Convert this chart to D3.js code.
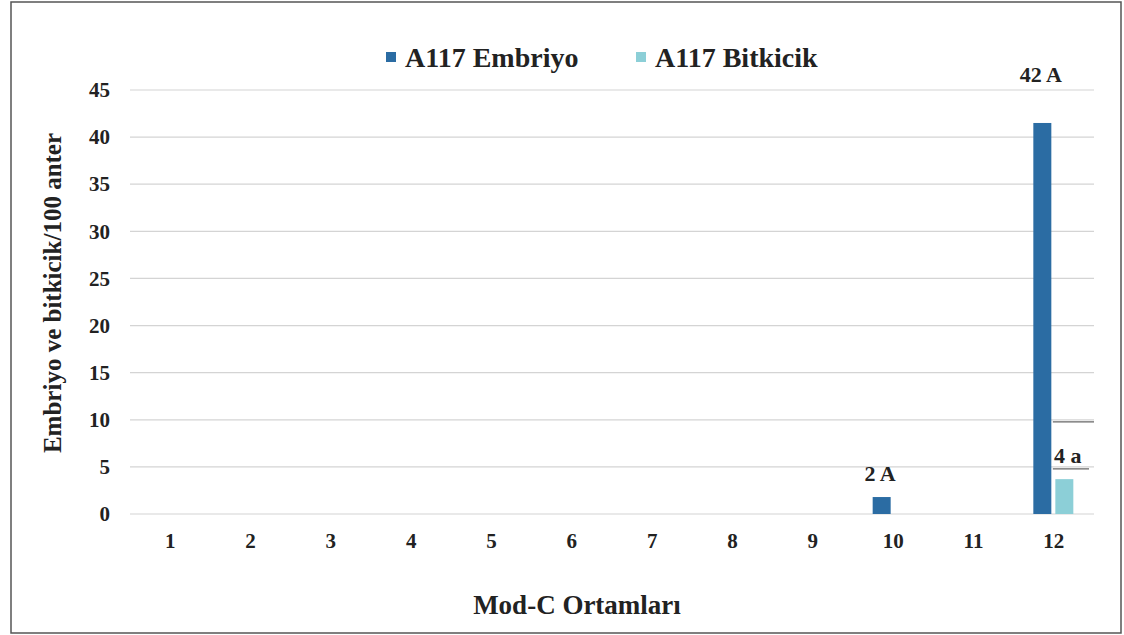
<!DOCTYPE html>
<html>
<head>
<meta charset="utf-8">
<script src="https://cdn.jsdelivr.net/npm/d3@7"></script>
<style>
  body { margin: 0; background: #fff; }
  svg text { font-family: 'Liberation Serif'; font-weight: bold; }
</style>
</head>
<body>
<div id="chart"></div>
<script>
const categories = ["1", "2", "3", "4", "5", "6", "7", "8", "9", "10", "11", "12"];
const series = ["A117 Embriyo", "A117 Bitkicik"];
const embriyo = [0, 0, 0, 0, 0, 0, 0, 0, 0, 1.8, 0, 41.5];
const bitkicik = [0, 0, 0, 0, 0, 0, 0, 0, 0, 0, 0, 3.7];
const embriyoLabels = ["", "", "", "", "", "", "", "", "", "2 A", "", "42 A"];
const bitkicikLabels = ["", "", "", "", "", "", "", "", "", "", "", "4 a"];
const yTicks = [0, 5, 10, 15, 20, 25, 30, 35, 40, 45];
const darkGrid = [10, 5]; // the two darker grid stubs right of group 12
const colors = ["#2b6ca3", "#8ccfd7"];

const font = "'Liberation Serif'";
const width = 1124, height = 635;
const margin = { left: 130, right: 30, top: 90, bottom: 121 };

const svg = d3.select("#chart").append("svg")
  .attr("width", width)
  .attr("height", height)
  .style("font-family", font)
  .style("font-weight", "bold");

// frame
svg.append("rect")
  .attr("x", 11).attr("y", 2)
  .attr("width", 1110).attr("height", 631)
  .attr("fill", "none")
  .attr("stroke", "#555")
  .attr("stroke-width", 1.5);

const x = d3.scaleBand()
  .domain(categories)
  .range([margin.left, width - margin.right]);

const y = d3.scaleLinear()
  .domain([0, 45])
  .range([height - margin.bottom, margin.top]);

// grid
svg.append("g")
  .selectAll("line")
  .data(yTicks)
  .join("line")
  .attr("x1", margin.left)
  .attr("x2", width - margin.right)
  .attr("y1", (d) => y(d))
  .attr("y2", (d) => y(d))
  .attr("stroke", "#d4d4d4")
  .attr("stroke-width", 1.2);

// y axis labels
const yAxis = svg.append("g")
  .attr("transform", `translate(${margin.left - 20},0)`)
  .call(d3.axisLeft(y).tickValues(yTicks).tickSize(0).tickPadding(0));
yAxis.attr("font-family", null).attr("font-size", null);
yAxis.select(".domain").remove();
yAxis.selectAll("text")
  .style("font-family", font)
  .style("font-size", "21px")
  .attr("fill", "#222");

// x axis labels
const xAxis = svg.append("g")
  .attr("transform", `translate(0,${y(0) + 18})`)
  .call(d3.axisBottom(x).tickSize(0).tickPadding(0));
xAxis.attr("font-family", null).attr("font-size", null);
xAxis.select(".domain").remove();
xAxis.selectAll("text")
  .style("font-family", font)
  .style("font-size", "21px")
  .attr("fill", "#222")
  .attr("dy", "0.75em");

// bars
const barW = 18, gap = 3;
const data = categories.map((c, i) => ({ c, vals: [embriyo[i], bitkicik[i]], labels: [embriyoLabels[i], bitkicikLabels[i]] }));
const groups = svg.append("g")
  .selectAll("g")
  .data(data)
  .join("g")
  .attr("transform", (d) => `translate(${x(d.c) + x.bandwidth() / 2},0)`);

groups.selectAll("rect")
  .data((d) => d.vals.map((v, k) => ({ v, k })))
  .join("rect")
  .attr("x", (d) => d.k === 0 ? -barW - gap / 2 - 1 : gap / 2)
  .attr("width", barW)
  .attr("y", (d) => y(d.v))
  .attr("height", (d) => y(0) - y(d.v))
  .attr("fill", (d) => colors[d.k]);

// darker stubs on the gridlines beside the last group
svg.append("g")
  .selectAll("line")
  .data(darkGrid)
  .join("line")
  .attr("x1", x("12") + x.bandwidth() / 2 - 1)
  .attr("x2", (d, i) => width - margin.right - i * 5)
  .attr("y1", (d) => y(d) + 2)
  .attr("y2", (d) => y(d) + 2)
  .attr("stroke", "#666")
  .attr("stroke-width", 1.2);

// value labels
groups.selectAll("text.lbl")
  .data((d) => d.labels.map((t, k) => ({ t, k, v: d.vals[k] })).filter((d) => d.t))
  .join("text")
  .attr("class", "lbl")
  .attr("x", (d) => d.k === 0 ? -barW / 2 - 4 : barW / 2 + 5)
  .attr("y", (d) => d.v > 20 ? y(45) - 8 : y(d.v) - 16)
  .attr("text-anchor", "middle")
  .attr("fill", "#222")
  .style("font-size", "22px")
  .text((d) => d.t);

// legend
const legend = svg.append("g").attr("transform", "translate(386,52)");
const legendX = [0, 250];
series.forEach((s, i) => {
  legend.append("rect")
    .attr("x", legendX[i]).attr("y", 0)
    .attr("width", 10).attr("height", 10)
    .attr("fill", colors[i]);
  legend.append("text")
    .attr("x", legendX[i] + 19).attr("y", 15)
    .attr("fill", "#222")
    .style("font-size", "28px")
    .text(s);
});

// axis titles
svg.append("text")
  .attr("transform", `translate(61,${(y(0) + y(45)) / 2 - 9}) rotate(-90)`)
  .attr("text-anchor", "middle")
  .attr("fill", "#222")
  .style("font-size", "25px")
  .text("Embriyo ve bitkicik/100 anter");

svg.append("text")
  .attr("x", 577).attr("y", 614)
  .attr("text-anchor", "middle")
  .attr("fill", "#222")
  .style("font-size", "27px")
  .text("Mod-C Ortamları");
</script>
</body>
</html>
